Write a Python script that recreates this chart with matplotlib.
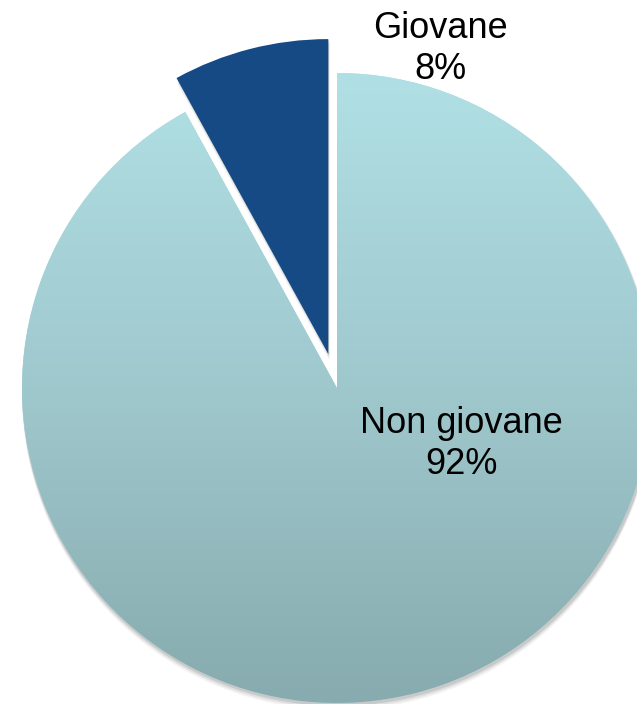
import matplotlib.pyplot as plt
import numpy as np
from matplotlib.colors import LinearSegmentedColormap

labels = ["Giovane", "Non giovane"]
shares = [8, 92]
pull = [35, 0]  # explode offset, in pixels

# Canvas in pixel units, y going up.
W, H = 637, 704
cx, cy, r = 337, 316, 315

fig = plt.figure(figsize=(W / 100, H / 100), dpi=100)
ax = fig.add_axes([0, 0, 1, 1])

# Soft shadow under the slices.
for k, a in [(6, 0.05), (4, 0.07), (2, 0.10)]:
    ax.pie(shares, explode=pull, startangle=90, counterclock=True,
           center=(cx + 1, cy - k), radius=r + 1, frame=True,
           colors=["black", "black"],
           wedgeprops=dict(linewidth=0, alpha=a))

wedges, _ = ax.pie(shares, explode=pull, startangle=90, counterclock=True,
                   center=(cx, cy), radius=r, frame=True,
                   colors=["#154a85", "#ace0e5"],
                   wedgeprops=dict(linewidth=0))
ax.set_xlim(0, W)
ax.set_ylim(0, H)
ax.set_aspect("equal")
ax.axis("off")

# Vertical gradient for the big slice.
cmap = LinearSegmentedColormap.from_list("teal", ["#87abae", "#9fc8cd", "#b0e0e5"])
grad = np.linspace(0, 1, 256).reshape(-1, 1)
img = ax.imshow(grad, cmap=cmap, origin="lower", aspect="auto",
                extent=[cx - r, cx + r, cy - r, cy + r],
                zorder=wedges[1].get_zorder() + 0.1)
img.set_clip_path(wedges[1])
ax.set_xlim(0, W)
ax.set_ylim(0, H)

for name, share, (tx, ty) in zip(labels, shares, [(440, 49), (461, 444)]):
    ax.text(tx, H - ty, f"{name}\n{share}%", ha="center", va="center",
            fontsize=26, family="Liberation Sans", linespacing=1.2, zorder=5)

fig.savefig("out.png", dpi=100)
